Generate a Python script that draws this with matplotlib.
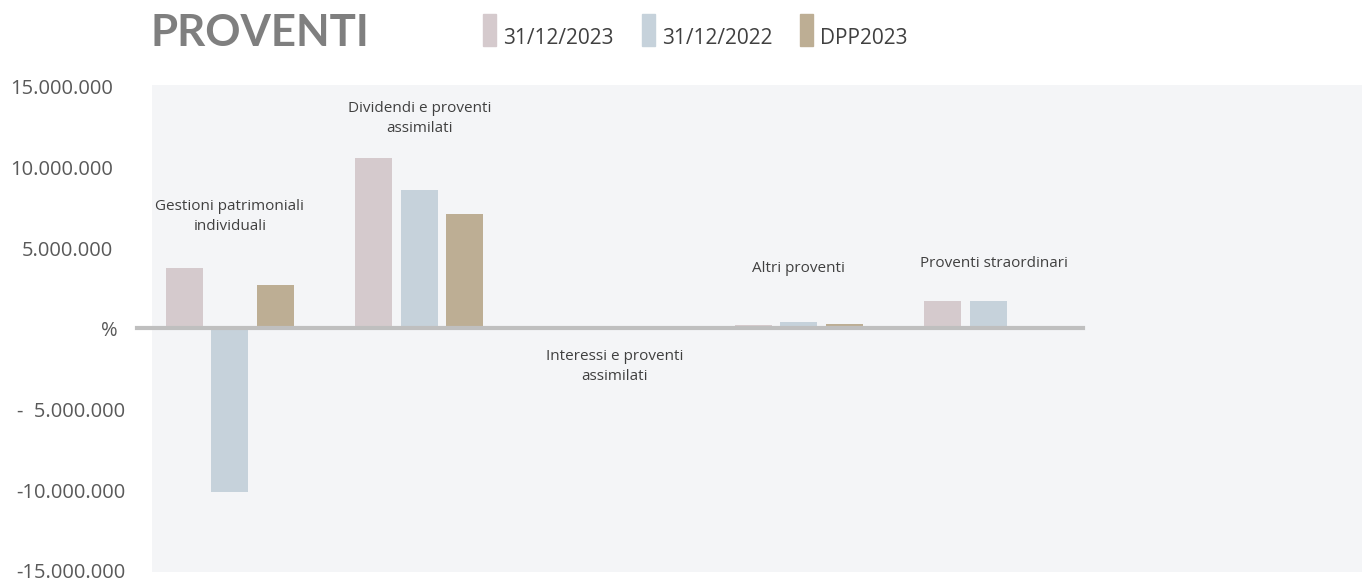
import matplotlib
matplotlib.use("Agg")
import matplotlib.pyplot as plt
import matplotlib.transforms as mtransforms
import numpy as np

# data
categories = ["Gestioni patrimoniali\nindividuali", "Dividendi e proventi\nassimilati",
              "Interessi e proventi\nassimilati", "Altri proventi", "Proventi straordinari"]
v2023 = [3720000, 10560000, 0, 200000, 1680000]
v2022 = [-10150000, 8570000, 0, 370000, 1680000]
dpp2023 = [2680000, 7080000, 0, 300000, 0]
series_names = ["31/12/2023", "31/12/2022", "DPP2023"]

yticks = [15000000, 10000000, 5000000, 0, -5000000, -10000000, -15000000]
ylabels = ["15.000.000", "10.000.000", "5.000.000", "%", "-  5.000.000", "-10.000.000", "-15.000.000"]

# layout
label_y = [6.94e6, 13.0e6, -2.36e6, 3.72e6, 4.03e6]
colors = ["#d5cacd", "#c6d2db", "#bdae94"]
text_col = "#404040"

fig = plt.figure(figsize=(13.62, 5.81), dpi=100)
ax = fig.add_axes([152 / 1362, 9 / 581, 1210 / 1362, 487 / 581])
ax.set_facecolor("#f4f5f7")

x = np.arange(len(categories))
pitch = 0.24
width = 0.195
for i, (vals, c) in enumerate(zip([v2023, v2022, dpp2023], colors)):
    ax.bar(x + (i - 1) * pitch, vals, width, color=c, zorder=2)

ax.set_xlim(-0.41, 5.97)
ax.set_ylim(-15.1e6, 15.09e6)

# zero line
ax.plot([-0.49, 4.5], [0, 0], color="#bfbfbf", lw=3, clip_on=False, zorder=3)

for xi, lab, ly in zip(x, categories, label_y):
    ax.text(xi + (0.03 if xi == 4 else 0.0) + (0.03 if xi == 2 else 0.0), ly, lab,
            ha="center", va="center", fontsize=11, color=text_col,
            family="Open Sans", linespacing=1.45)

ax.set_xticks([])
ax.set_yticks([])
for s in ax.spines.values():
    s.set_visible(False)

# y labels, accounting-style alignment (slightly below the gridline value, like Excel)
trans = mtransforms.blended_transform_factory(fig.transFigure, ax.transData)
trans = trans + mtransforms.ScaledTranslation(0, -3 / 100, fig.dpi_scale_trans)
for v, lab in zip(yticks, ylabels):
    xr = 113 if v > 0 else (118 if v == 0 else 125)
    ax.text(xr / 1362, v, lab, transform=trans, ha="right", va="center",
            fontsize=14.5, color="#595959", family="Open Sans", clip_on=False)

# title
fig.text(151 / 1362, 1 - 33 / 581, "PROVENTI", fontsize=31.5, fontweight="bold",
         color="#7f7f7f", family="Lato", va="center", ha="left")

# legend
leg_x = [483, 642, 800]
for lx, name, c in zip(leg_x, series_names, colors):
    fig.patches.append(plt.Rectangle((lx / 1362, 1 - 46 / 581), 13 / 1362, 32 / 581,
                                     transform=fig.transFigure, color=c))
    fig.text((lx + 20) / 1362, 1 - 38 / 581, name, fontsize=15, color="#404040",
             family="Open Sans", va="center", ha="left")

fig.savefig("out.png", dpi=100)
